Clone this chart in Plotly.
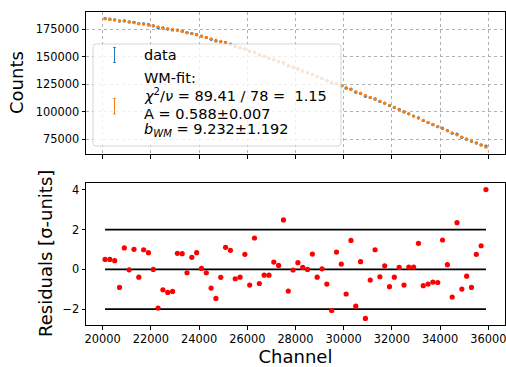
import numpy as np
import plotly.graph_objects as go

channels = [20100, 20300, 20500, 20700, 20900, 21100, 21300, 21500, 21700, 21900,
            22100, 22300, 22500, 22700, 22900, 23100, 23300, 23500, 23700, 23900,
            24100, 24300, 24500, 24700, 24900, 25100, 25300, 25500, 25700, 25900,
            26100, 26300, 26500, 26700, 26900, 27100, 27300, 27500, 27700, 27900,
            28100, 28300, 28500, 28700, 28900, 29100, 29300, 29500, 29700, 29900,
            30100, 30300, 30500, 30700, 30900, 31100, 31300, 31500, 31700, 31900,
            32100, 32300, 32500, 32700, 32900, 33100, 33300, 33500, 33700, 33900,
            34100, 34300, 34500, 34700, 34900, 35100, 35300, 35500, 35700, 35900]

fit_counts = [184300, 183740, 183190, 182630, 182080, 181450, 180750, 180050, 179350, 178650,
              177900, 177100, 176300, 175500, 174700, 173790, 172770, 171750, 170730, 169710,
              168580, 167340, 166100, 164860, 163620, 162290, 160870, 159450, 158030, 156610,
              155090, 153470, 151850, 150230, 148610, 146970, 145310, 143650, 141990, 140330,
              138650, 136950, 135250, 133550, 131850, 130160, 128480, 126800, 125120, 123440,
              121730, 119990, 118250, 116510, 114770, 113000, 111200, 109400, 107600, 105800,
              103910, 101930, 99950, 97970, 95990, 94050, 92150, 90250, 88350, 86450,
              84550, 82650, 80750, 78850, 76950, 75080, 73230, 71390, 69540, 67700]

residuals = [0.50, 0.50, 0.44, -0.91, 1.08, -0.02, 1.01, -0.39, 0.99, 0.84,
             0.00, -1.95, -1.03, -1.16, -1.11, 0.81, 0.79, -0.17, 0.61, 0.84,
             0.05, -0.17, -0.94, -1.46, -0.40, 1.11, 0.96, -0.47, -0.39, 0.76,
             -0.79, 1.58, -0.71, -0.29, -0.29, 0.37, 0.20, 2.49, -1.09, -0.03,
             0.34, 0.10, 0.00, 0.77, -0.39, 0.03, -0.74, -2.07, 0.87, 0.27,
             -1.24, 1.46, -1.85, 0.39, -2.47, -0.54, 0.99, -0.37, 0.18, -0.87,
             -0.39, 0.10, -0.79, 0.12, 0.12, 1.31, -0.82, -0.74, -0.64, -0.66,
             1.48, 0.24, -1.39, 2.35, -0.99, -0.34, -0.91, 0.76, 1.19, 4.02]

sigma_levels = [-2, 0, 2]
band_x = [20100, 35900]

top_yticks = [75000, 100000, 125000, 150000, 175000]
x_ticks = [20000, 22000, 24000, 26000, 28000, 30000, 32000, 34000, 36000]
res_yticks = [-2, 0, 2, 4]
res_yticktext = ["\u22122", "0", "2", "4"]

legend_lines = ["WM-fit:",
                "<i>\u03c7</i><sup>2</sup>/<i>\u03bd</i> = 89.41 / 78 = \u00a01.15",
                "A = 0.588\u00b10.007",
                "<i>b</i><sub><i>WM</i></sub> = 9.232\u00b11.192"]

fit_arr = np.array(fit_counts, dtype=float)
data_counts = fit_arr + np.array(residuals) * np.sqrt(fit_arr)
data_err = np.sqrt(data_counts)

BLUE = "#1f77b4"
ORANGE = "#ff7f0e"
FONT = "DejaVu Sans"

W, H = 506, 367
ML, MR, MT, MB = 86, 1, 12, 42
PW = W - ML - MR
PH = H - MT - MB


def px(x):
    return (x - ML) / PW


def py(y):
    return (H - MB - y) / PH


fig = go.Figure()

fig.add_trace(go.Scatter(
    x=channels, y=data_counts, mode="markers", xaxis="x", yaxis="y",
    marker=dict(color=BLUE, size=3.2, line=dict(width=0)),
    error_y=dict(type="data", array=data_err, visible=True, color=BLUE,
                 thickness=1, width=1.2),
    showlegend=False, name="data"))

fig.add_trace(go.Scatter(
    x=channels, y=fit_counts, mode="markers", xaxis="x", yaxis="y",
    marker=dict(color=ORANGE, size=3.2, line=dict(width=0)),
    showlegend=False, name="WM-fit"))

for lvl in sigma_levels:
    fig.add_trace(go.Scatter(
        x=band_x, y=[lvl, lvl], mode="lines", xaxis="x2", yaxis="y2",
        line=dict(color="black", width=1.6), showlegend=False, hoverinfo="skip"))

fig.add_trace(go.Scatter(
    x=channels, y=residuals, mode="markers", xaxis="x2", yaxis="y2",
    marker=dict(color="#ff0000", size=5.2, line=dict(width=0)),
    showlegend=False, name="residuals"))

# legend box (semi-transparent like matplotlib)
l, r, t, b = 93, 341, 44, 146
rad = 3
path = (f"M {px(l + rad)},{py(t)} L {px(r - rad)},{py(t)} "
        f"Q {px(r)},{py(t)} {px(r)},{py(t + rad)} L {px(r)},{py(b - rad)} "
        f"Q {px(r)},{py(b)} {px(r - rad)},{py(b)} L {px(l + rad)},{py(b)} "
        f"Q {px(l)},{py(b)} {px(l)},{py(b - rad)} L {px(l)},{py(t + rad)} "
        f"Q {px(l)},{py(t)} {px(l + rad)},{py(t)} Z")
shapes = [dict(type="path", xref="paper", yref="paper", path=path,
               fillcolor="rgba(255,255,255,0.8)",
               line=dict(color="rgba(204,204,204,0.8)", width=1), layer="above")]


def err_icon(xc, y0, y1, color):
    out = [dict(type="line", xref="paper", yref="paper", x0=px(xc), x1=px(xc),
                y0=py(y0), y1=py(y1), line=dict(color=color, width=1), layer="above")]
    for yy in (y0, y1):
        out.append(dict(type="line", xref="paper", yref="paper", x0=px(xc - 1.3),
                        x1=px(xc + 1.3), y0=py(yy), y1=py(yy),
                        line=dict(color=color, width=1), layer="above"))
    return out


shapes += err_icon(114.5, 47.5, 62.5, BLUE)
shapes += err_icon(114.5, 98.5, 114, ORANGE)

legend_font = dict(family=FONT, size=14.5, color="black")
annotations = [dict(text="data", xref="paper", yref="paper", x=px(142), y=py(55),
                    xanchor="left", yanchor="middle", showarrow=False, font=legend_font)]
line_y = [77.5, 95.5, 113.5, 129.5]
for txt, yy in zip(legend_lines, line_y):
    annotations.append(dict(text=txt, xref="paper", yref="paper", x=px(142), y=py(yy),
                            xanchor="left", yanchor="middle", showarrow=False,
                            font=legend_font))

title_font = dict(family=FONT, size=18, color="black")
annotations.append(dict(text="Counts", xref="paper", yref="paper", x=px(17), y=py(83),
                        xanchor="center", yanchor="middle", textangle=-90,
                        showarrow=False, font=title_font))
annotations.append(dict(text="Residuals [\u03c3-units]", xref="paper", yref="paper",
                        x=px(45), y=py(254), xanchor="center", yanchor="middle",
                        textangle=-90, showarrow=False, font=title_font))

tick_font = dict(family=FONT, size=11.4, color="black")
top_dom = [py(154), py(12)]
bot_dom = [py(325), py(183)]
xr = [19310, 36690]

fig.update_layout(
    width=W, height=H, margin=dict(l=ML, r=MR, t=MT, b=MB, pad=0),
    paper_bgcolor="white", plot_bgcolor="white",
    font=dict(family=FONT, color="black"),
    shapes=shapes, annotations=annotations,
    xaxis=dict(domain=[0, 1], anchor="y", range=xr, tickvals=x_ticks,
               showticklabels=False, ticks="outside", ticklen=3.5, tickwidth=1,
               tickcolor="black", showline=True, linecolor="black", linewidth=1,
               mirror=True, showgrid=True, gridcolor="#b0b0b0", gridwidth=0.8,
               griddash="dot", zeroline=False, automargin=False),
    yaxis=dict(domain=top_dom, anchor="x", range=[61500, 190500], tickvals=top_yticks,
               tickformat="d", tickfont=tick_font, ticks="outside", ticklen=3.5,
               tickwidth=1, tickcolor="black", showline=True, linecolor="black",
               linewidth=1, mirror=True, showgrid=True, gridcolor="#b0b0b0",
               gridwidth=0.8, griddash="dot", zeroline=False, automargin=False),
    xaxis2=dict(domain=[0, 1], anchor="y2", range=xr, tickvals=x_ticks,
                tickformat="d", tickfont=tick_font, ticks="outside", ticklen=3.5,
                tickwidth=1, tickcolor="black", showline=True, linecolor="black",
                linewidth=1, mirror=True, showgrid=False, zeroline=False,
                automargin=False, ticklabeloverflow="allow",
                title=dict(text="Channel", font=title_font, standoff=4)),
    yaxis2=dict(domain=bot_dom, anchor="x2", range=[-2.8, 4.35], tickvals=res_yticks,
                ticktext=res_yticktext, tickfont=tick_font, ticks="outside",
                ticklen=3.5, tickwidth=1, tickcolor="black", showline=True,
                linecolor="black", linewidth=1, mirror=True, showgrid=False,
                zeroline=False, automargin=False),
)

fig.write_html("out.html", config={"displayModeBar": False},
               post_script="document.body.style.margin='0';document.body.style.overflow='hidden';")
